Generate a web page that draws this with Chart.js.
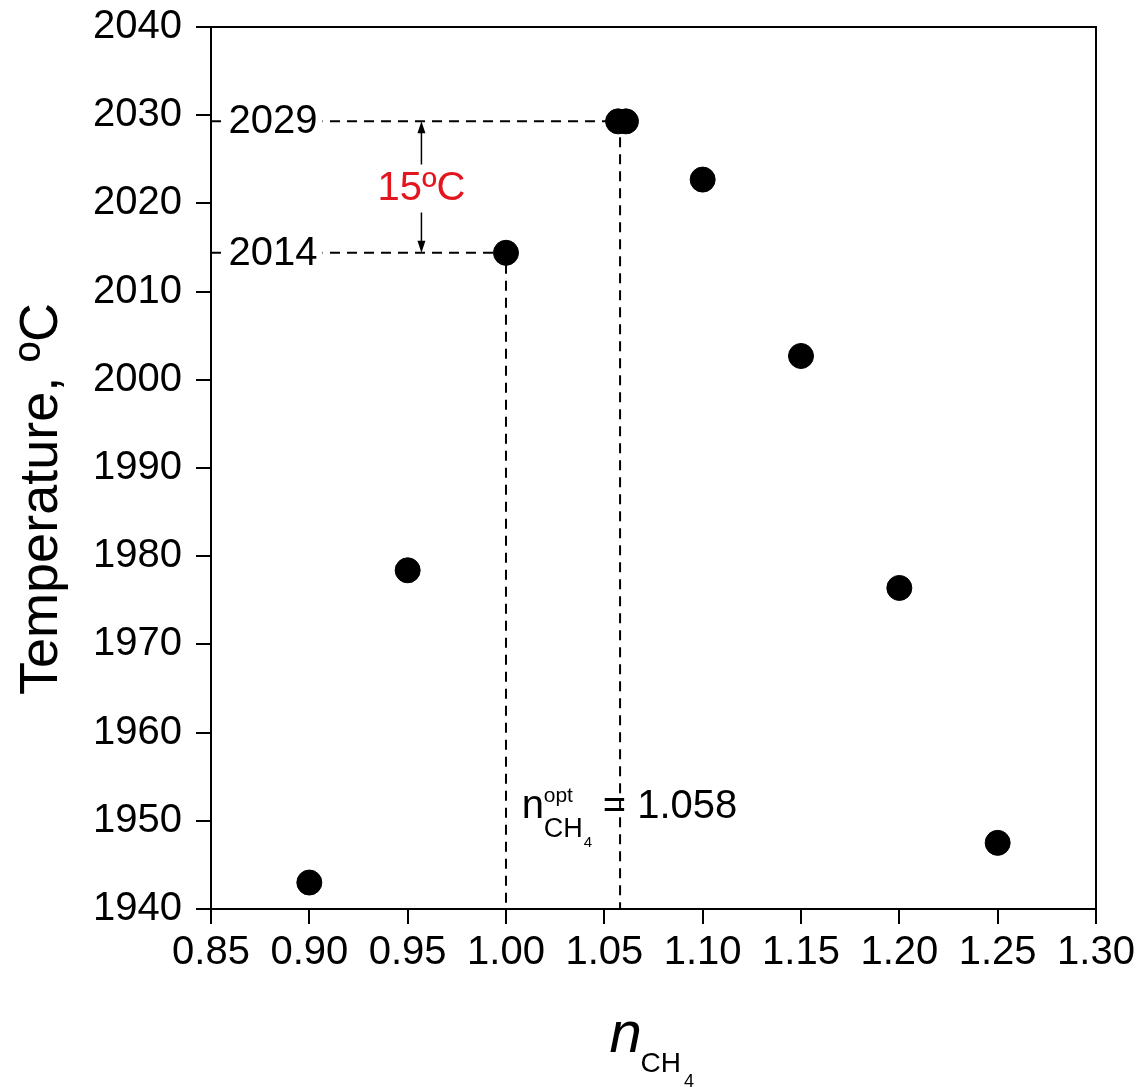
<!DOCTYPE html>
<html>
<head>
<meta charset="utf-8">
<script src="https://cdn.jsdelivr.net/npm/chart.js@4.4.1/dist/chart.umd.min.js"></script>
<style>
  html, body { margin: 0; padding: 0; background: #fff; }
  #wrap { width: 1142px; height: 1087px; }
</style>
</head>
<body>
<div id="wrap"><canvas id="tempChart" width="1142" height="1087"></canvas></div>
<script>
// measured points: methane excess ratio vs flame temperature
var ratioCH4 = [0.90, 0.95, 1.00, 1.057, 1.061, 1.10, 1.15, 1.20, 1.25];
var temperature = [1943.0, 1978.4, 2014.4, 2029.3, 2029.3, 2022.7, 2002.7, 1976.4, 1947.5];

// axis ranges
var xRange = [0.85, 1.30, 0.05];
var yRange = [1940, 2040, 10];

// guide lines to the stoichiometric and optimum points
var guideX = [1.00, 1.058];
var guideY = [2014.4, 2029.3];
var guideLabels = ['2014', '2029'];
var arrowX = 0.957;
var deltaY = 2021.7;
var deltaLabel = '15ºC';
var optPos = [1.008, 1950.3];
var optValue = '1.058';

var FONT = '"Liberation Sans", Arial, Helvetica, sans-serif';

function dashed(points) {
  return {
    type: 'scatter',
    data: points,
    showLine: true,
    borderColor: '#000',
    borderWidth: 2,
    borderDash: [10, 7],
    pointRadius: 0,
    pointHoverRadius: 0,
    order: 2
  };
}

var overlay = {
  id: 'overlay',
  afterDatasetsDraw: function (chart) {
    var ctx = chart.ctx, a = chart.chartArea;
    var x = chart.scales.x, y = chart.scales.y;
    ctx.save();

    // frame
    ctx.strokeStyle = '#000';
    ctx.lineWidth = 2;
    ctx.strokeRect(a.left, a.top, a.right - a.left, a.bottom - a.top);

    // 2014 / 2029 labels sitting on the dashed lines
    ctx.font = '40px ' + FONT;
    ctx.textAlign = 'center';
    ctx.textBaseline = 'middle';
    guideY.forEach(function (v, i) {
      var py = y.getPixelForValue(v);
      var cx = a.left + 62;
      var w = ctx.measureText(guideLabels[i]).width;
      ctx.fillStyle = '#fff';
      ctx.fillRect(cx - w / 2 - 5, py - 4, w + 10, 8);
      ctx.fillStyle = '#000';
      ctx.fillText(guideLabels[i], cx, py + 1);
    });

    // double arrow with the 15ºC difference
    var ax = x.getPixelForValue(arrowX);
    var top = y.getPixelForValue(guideY[1]);
    var bot = y.getPixelForValue(guideY[0]);
    var mid = y.getPixelForValue(deltaY);
    ctx.lineWidth = 1.5;
    ctx.beginPath();
    ctx.moveTo(ax, top + 8); ctx.lineTo(ax, mid - 24);
    ctx.moveTo(ax, mid + 24); ctx.lineTo(ax, bot - 8);
    ctx.stroke();
    ctx.beginPath();
    ctx.moveTo(ax, top); ctx.lineTo(ax - 4, top + 12); ctx.lineTo(ax + 4, top + 12); ctx.closePath();
    ctx.moveTo(ax, bot); ctx.lineTo(ax - 4, bot - 12); ctx.lineTo(ax + 4, bot - 12); ctx.closePath();
    ctx.fillStyle = '#000';
    ctx.fill();
    ctx.fillStyle = '#e3151f';
    ctx.fillText(deltaLabel, ax, mid + 1);

    // n_CH4^opt = 1.058
    var ox = x.getPixelForValue(optPos[0]);
    var oy = y.getPixelForValue(optPos[1]);
    ctx.fillStyle = '#000';
    ctx.textAlign = 'left';
    ctx.textBaseline = 'alphabetic';
    ctx.font = '40px ' + FONT;
    ctx.fillText('n', ox, oy);
    ctx.font = '21px ' + FONT;
    ctx.fillText('opt', ox + 22, oy - 16);
    ctx.font = '27px ' + FONT;
    ctx.fillText('CH', ox + 22, oy + 19);
    var chw = ctx.measureText('CH').width;
    ctx.font = '15px ' + FONT;
    ctx.fillText('4', ox + 22 + chw + 1, oy + 29);
    ctx.font = '40px ' + FONT;
    ctx.fillText('= ' + optValue, ox + 81, oy);

    // x axis title: italic n with CH4 subscript
    var cx = (a.left + a.right) / 2;
    ctx.font = 'italic 58px ' + FONT;
    ctx.fillText('n', cx - 44, a.bottom + 143);
    ctx.font = '28px ' + FONT;
    ctx.fillText('CH', cx - 13, a.bottom + 163);
    var chw2 = ctx.measureText('CH').width;
    ctx.font = '18px ' + FONT;
    ctx.fillText('4', cx - 13 + chw2 + 3, a.bottom + 178);

    // y axis title
    ctx.translate(57, (a.top + a.bottom) / 2 + 31);
    ctx.rotate(-Math.PI / 2);
    ctx.textAlign = 'center';
    ctx.font = '54px ' + FONT;
    ctx.fillText('Temperature, ºC', 0, 0);
    ctx.restore();
  }
};

var points = ratioCH4.map(function (v, i) { return { x: v, y: temperature[i] }; });

new Chart(document.getElementById('tempChart'), {
  type: 'scatter',
  data: {
    datasets: [
      {
        label: 'T',
        data: points,
        backgroundColor: '#000',
        borderColor: '#000',
        pointRadius: 12.5,
        pointHoverRadius: 12.5,
        order: 0
      },
      dashed([{ x: xRange[0], y: guideY[1] }, { x: guideX[1], y: guideY[1] }, { x: guideX[1], y: yRange[0] }]),
      dashed([{ x: xRange[0], y: guideY[0] }, { x: guideX[0], y: guideY[0] }, { x: guideX[0], y: yRange[0] }])
    ]
  },
  options: {
    responsive: false,
    animation: false,
    events: [],
    layout: { padding: { top: 27, right: 46, left: 0, bottom: 0 } },
    plugins: { legend: { display: false }, tooltip: { enabled: false } },
    scales: {
      x: {
        type: 'linear',
        min: xRange[0], max: xRange[1],
        afterFit: function (s) { s.height = 178; s.paddingLeft = 0; s.paddingRight = 0; },
        grid: { drawOnChartArea: false, drawTicks: true, tickLength: 15, color: '#000', lineWidth: 2 },
        border: { display: true, color: '#000', width: 2 },
        ticks: {
          stepSize: xRange[2], autoSkip: false, maxRotation: 0, padding: 5,
          color: '#000', font: { family: FONT, size: 40 },
          callback: function (v) { return v.toFixed(2); }
        }
      },
      y: {
        type: 'linear',
        min: yRange[0], max: yRange[1],
        afterFit: function (s) { s.width = 211; s.paddingTop = 0; s.paddingBottom = 0; },
        grid: { drawOnChartArea: false, drawTicks: true, tickLength: 15, color: '#000', lineWidth: 2 },
        border: { display: true, color: '#000', width: 2 },
        ticks: {
          stepSize: yRange[2], autoSkip: false, padding: 14,
          color: '#000', font: { family: FONT, size: 40 },
          callback: function (v) { return String(v); }
        }
      }
    }
  },
  plugins: [overlay]
});
</script>
</body>
</html>
